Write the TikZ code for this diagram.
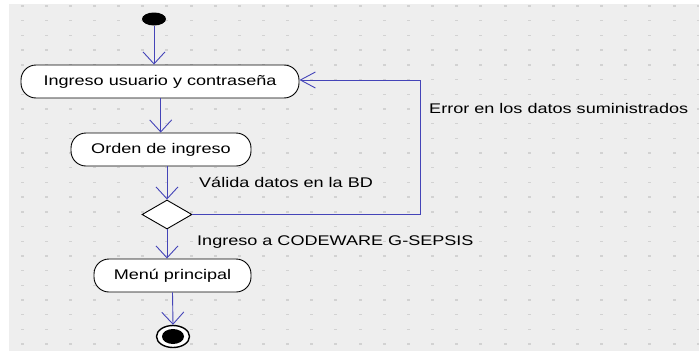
\documentclass[tikz,border=0pt]{standalone}
\usepackage{fontspec}
\setmainfont{Liberation Sans}[FakeStretch=1.29]
\usetikzlibrary{arrows.meta,shapes.geometric}
\definecolor{canvas}{HTML}{EEEEEE}
\definecolor{gridmark}{HTML}{D2D2D2}
\definecolor{flow}{RGB}{68,68,184}
\tikzset{
  action/.style={draw=black, line width=0.9pt, fill=white, rectangle,
    rounded corners=15pt, minimum height=33pt, inner sep=0pt,
    font=\fontsize{14}{16}\selectfont},
  label/.style={anchor=west, inner sep=0pt, font=\fontsize{14}{16}\selectfont},
  flowline/.style={draw=flow, line width=0.9pt},
  vtip/.style={flowline, -{Straight Barb[length=12pt,width=22pt]}},
  htip/.style={flowline, -{Straight Barb[length=15pt,width=16pt]}},
}
\begin{document}
\begin{tikzpicture}[x=1pt,y=-1pt]
\useasboundingbox (0,0) rectangle (699,351);
% canvas with its dotted grid
\fill[white] (0,0) rectangle (699,351);
\fill[canvas] (9,4) rectangle (699,351);
\foreach \i in {0,...,28}
  \foreach \j in {0,...,23}
    \fill[gridmark] ({22+24.15*\i-1.5},{6+14.7*\j-0.7}) rectangle ++(3,1.4);

% start and end states
\node[ellipse, fill=black, minimum width=24pt, minimum height=13pt, inner sep=0pt] (start) at (154,19) {};
\node[ellipse, draw=black, line width=1.4pt, fill=white, minimum width=33pt, minimum height=22pt, inner sep=0pt] (end) at (173,336.5) {};
\node[ellipse, fill=black, minimum width=22pt, minimum height=15pt, inner sep=0pt] (endcore) at (end) {};

% activities
\node[action, minimum width=278pt] (a1) at (160,81.5) {Ingreso usuario y contraseña};
\node[action, minimum width=180pt] (a2) at (161,149.5) {Orden de ingreso};
\node[action, minimum width=157pt] (a3) at (172.5,275.5) {Menú principal};

% decision
\node[diamond, draw=black, line width=0.9pt, fill=white, aspect=1.72,
  minimum width=50pt, minimum height=29pt, inner sep=0pt] (d) at (167,214.5) {};

% loop-back corner
\coordinate (back) at (420,80);

% flows
\draw[vtip] (start.south) -- (start.south |- a1.north);
\draw[vtip] (a1.south -| 160.7,0) -- (a2.north -| 160.7,0);
\draw[vtip] (d.north |- a2.south) -- (d.north);
\draw[vtip] (d.south) -- (d.south |- a3.north);
\draw[vtip] (a3.south) -- (end.north);
\draw[htip] (d.east) -- (d.east -| back) -- (back) -- (back -| a1.east);

% guard labels
\node[label] (lvalida) at (199,182) {Válida datos en la BD};
\node[label] (lingreso) at (197,242) {Ingreso a CODEWARE G-SEPSIS};
\node[label] (lerror) at (429,108) {Error en los datos suministrados};
\end{tikzpicture}
\end{document}
